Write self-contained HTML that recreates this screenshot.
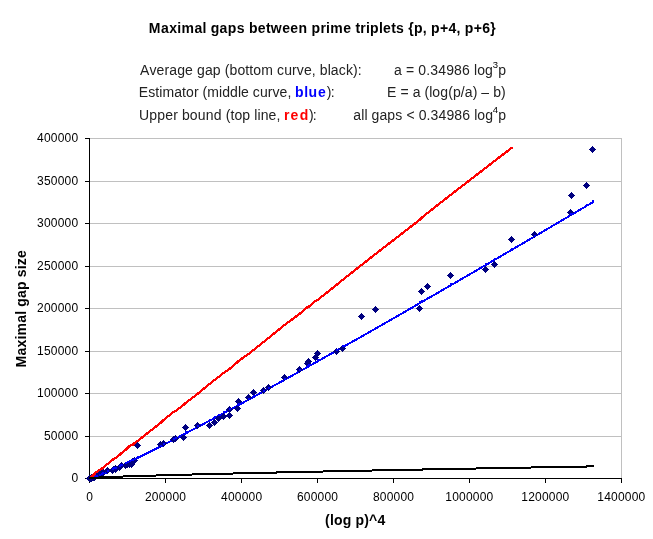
<!DOCTYPE html>
<html><head><meta charset="utf-8"><style>
html,body{margin:0;padding:0;background:#fff;}
svg{display:block;will-change:transform;}
text{font-family:"Liberation Sans",sans-serif;fill:#000;}
</style></head><body>
<svg width="653" height="539" viewBox="0 0 653 539">
<defs><clipPath id="pc"><rect x="80" y="130" width="560" height="349"/></clipPath></defs>
<rect width="653" height="539" fill="#fff"/>

<text ><tspan x="148.86 161.05 169.19 177.33 181.39 194.40 202.54 206.60 210.67 219.60 227.74 236.68 244.82 248.88 257.82 265.95 270.83 282.21 290.34 298.48 307.42 311.48 320.42 326.11 330.18 343.19 351.33 355.39 360.26 365.96 370.02 378.96 383.02 391.16 396.03 404.17 408.24 413.93 422.87 426.93 431.00 439.93 448.48 456.62 460.68 464.75 473.68 482.23 490.36" y="33" font-size="14" font-weight="bold">Maximal gaps between prime triplets {p, p+4, p+6}</tspan></text>
<text ><tspan x="139.97 149.48 156.60 164.53 169.27 177.20 185.12 193.05 197.01 204.93 212.86 220.78 224.74 229.49 237.41 245.34 249.30 253.26 261.18 273.05 277.01 284.14 292.06 296.81 303.93 311.86 315.82 319.78 327.70 330.87 338.79 345.92 353.04 357.79" y="75" font-size="14" style="fill:#222">Average gap (bottom curve, black):</tspan></text>
<text ><tspan x="138.85 148.29 155.36 159.30 162.44 174.23 182.10 186.03 193.90 198.61 202.54 207.25 219.04 222.18 230.05 237.92 241.07 248.94 252.87 259.94 267.81 272.52 279.60 287.47" y="97.2" font-size="14" style="fill:#222">Estimator (middle curve,</tspan><tspan x="294.88 304.25 308.52 317.89" y="97.2" font-size="14" font-weight="bold" style="fill:#0000ff">blue</tspan><tspan x="326.82 330.69" y="97.2" font-size="14" style="fill:#222">):</tspan></text>
<text ><tspan x="138.92 149.26 157.22 165.17 173.13 177.90 181.88 189.84 197.80 205.76 213.72 221.68 225.65 230.42 234.39 242.35 250.31 254.29 257.47 260.65 268.61 276.57" y="119.6" font-size="14" style="fill:#222">Upper bound (top line,</tspan><tspan x="283.98 290.44 299.67" y="119.6" font-size="14" font-weight="bold" style="fill:#ff0000">red</tspan><tspan x="309.12 312.79" y="119.6" font-size="14" style="fill:#222">):</tspan></text>
<text ><tspan x="394.01 401.96 405.94 414.30 418.27 426.23 430.21 438.17 446.13 454.08 462.04 470.00 473.98 477.16 485.12" y="75" font-size="14" style="fill:#222">a = 0.34986 log</tspan><tspan x="492.64" y="68" font-size="9.5">3</tspan><tspan x="498.20" y="75" font-size="14" style="fill:#222">p</tspan></text>
<text ><tspan x="386.95 396.43 400.38 408.68 412.63 420.53 424.48 429.21 432.37 440.27 448.18 452.91 460.82 464.76 472.67 477.40 481.35 489.25 493.20 501.11" y="97.2" font-size="14" style="fill:#222">E = a (log(p/a) – b)</tspan></text>
<text ><tspan x="353.31 361.23 364.40 367.56 371.52 379.45 387.37 395.29 402.42 406.38 414.70 418.66 426.58 430.54 438.47 446.39 454.32 462.24 470.17 474.13 477.29 485.22" y="119.6" font-size="14" style="fill:#222">all gaps &lt; 0.34986 log</tspan><tspan x="492.78" y="112.6" font-size="9.5">4</tspan><tspan x="498.20" y="119.6" font-size="14" style="fill:#222">p</tspan></text>
<rect x="90" y="436" width="532" height="1" fill="#c0c0c0"/>
<rect x="90" y="393" width="532" height="1" fill="#c0c0c0"/>
<rect x="90" y="351" width="532" height="1" fill="#c0c0c0"/>
<rect x="90" y="308" width="532" height="1" fill="#c0c0c0"/>
<rect x="90" y="266" width="532" height="1" fill="#c0c0c0"/>
<rect x="90" y="223" width="532" height="1" fill="#c0c0c0"/>
<rect x="90" y="181" width="532" height="1" fill="#c0c0c0"/>
<rect x="90" y="138" width="532" height="1" fill="#c0c0c0"/>
<rect x="621" y="138" width="1" height="340" fill="#c0c0c0"/>
<rect x="89" y="138" width="1" height="345" fill="#000"/>
<rect x="85" y="478" width="537" height="1" fill="#000"/>
<rect x="85" y="436" width="4" height="1" fill="#000"/>
<rect x="85" y="393" width="4" height="1" fill="#000"/>
<rect x="85" y="351" width="4" height="1" fill="#000"/>
<rect x="85" y="308" width="4" height="1" fill="#000"/>
<rect x="85" y="266" width="4" height="1" fill="#000"/>
<rect x="85" y="223" width="4" height="1" fill="#000"/>
<rect x="85" y="181" width="4" height="1" fill="#000"/>
<rect x="85" y="138" width="4" height="1" fill="#000"/>
<rect x="165" y="479" width="1" height="4" fill="#000"/>
<rect x="241" y="479" width="1" height="4" fill="#000"/>
<rect x="317" y="479" width="1" height="4" fill="#000"/>
<rect x="393" y="479" width="1" height="4" fill="#000"/>
<rect x="469" y="479" width="1" height="4" fill="#000"/>
<rect x="545" y="479" width="1" height="4" fill="#000"/>
<rect x="621" y="479" width="1" height="4" fill="#000"/>
<text ><tspan x="71.49" y="482.2" font-size="12">0</tspan></text>
<text ><tspan x="44.00 50.87 57.75 64.62 71.49" y="440.2" font-size="12">50000</tspan></text>
<text ><tspan x="37.12 44.00 50.87 57.75 64.62 71.49" y="397.2" font-size="12">100000</tspan></text>
<text ><tspan x="37.12 44.00 50.87 57.75 64.62 71.49" y="355.2" font-size="12">150000</tspan></text>
<text ><tspan x="37.12 44.00 50.87 57.75 64.62 71.49" y="312.2" font-size="12">200000</tspan></text>
<text ><tspan x="37.12 44.00 50.87 57.75 64.62 71.49" y="270.2" font-size="12">250000</tspan></text>
<text ><tspan x="37.12 44.00 50.87 57.75 64.62 71.49" y="227.2" font-size="12">300000</tspan></text>
<text ><tspan x="37.12 44.00 50.87 57.75 64.62 71.49" y="185.2" font-size="12">350000</tspan></text>
<text ><tspan x="37.12 44.00 50.87 57.75 64.62 71.49" y="142.2" font-size="12">400000</tspan></text>
<text ><tspan x="86.16" y="501" font-size="12">0</tspan></text>
<text ><tspan x="144.91 151.78 158.66 165.53 172.41 179.28" y="501" font-size="12">200000</tspan></text>
<text ><tspan x="221.07 227.95 234.82 241.70 248.57 255.44" y="501" font-size="12">400000</tspan></text>
<text ><tspan x="296.91 303.78 310.66 317.53 324.40 331.28" y="501" font-size="12">600000</tspan></text>
<text ><tspan x="372.95 379.83 386.70 393.57 400.45 407.32" y="501" font-size="12">800000</tspan></text>
<text ><tspan x="445.32 452.19 459.07 465.94 472.81 479.69 486.56" y="501" font-size="12">1000000</tspan></text>
<text ><tspan x="521.32 528.19 535.07 541.94 548.81 555.69 562.56" y="501" font-size="12">1200000</tspan></text>
<text ><tspan x="597.32 604.19 611.07 617.94 624.81 631.69 638.56" y="501" font-size="12">1400000</tspan></text>
<text ><tspan x="325.10 329.89 333.88 342.66 351.44 355.43 364.21 369.00 377.39" y="525.2" font-size="14" font-weight="bold">(log p)^4</tspan></text>
<text transform="translate(26,308.65) rotate(-90)"><tspan x="-58.96 -46.96 -38.95 -30.94 -26.94 -14.13 -6.12 -2.11 1.89 10.69 18.70 27.50 31.50 39.51 43.52 50.72" y="0" font-size="14" font-weight="bold">Maximal gap size</tspan></text>
<polyline clip-path="url(#pc)" fill="none" stroke="#0000ff" stroke-width="2" stroke-linejoin="round" stroke-linecap="butt" shape-rendering="crispEdges" points="89.52,479.00 89.56,479.00 89.62,478.99 89.79,478.97 90.03,478.92 90.14,478.90 90.27,478.87 90.89,478.71 90.98,478.68 91.10,478.64 91.26,478.60 91.54,478.51 91.77,478.44 92.27,478.28 92.81,478.10 93.52,477.86 94.60,477.47 94.88,477.37 96.81,476.63 99.33,475.63 101.32,474.81 102.09,474.49 107.83,472.01 112.27,470.02 113.85,469.30 115.21,468.68 115.24,468.66 119.40,466.73 120.31,466.30 121.59,465.70 125.86,463.67 127.47,462.90 129.93,461.71 131.17,461.11 132.24,460.59 132.30,460.56 134.08,459.69 137.15,458.18 160.38,446.52 163.50,444.92 173.21,439.91 175.59,438.67 183.20,434.70 185.83,433.32 197.19,427.32 209.35,420.85 214.61,418.03 218.87,415.74 223.12,413.45 229.17,410.19 229.20,410.17 237.33,405.76 238.82,404.95 248.54,399.65 253.27,397.06 263.07,391.68 268.50,388.68 284.50,379.83 299.50,371.48 307.50,367.01 308.50,366.45 315.50,362.52 317.50,361.40 336.50,350.70 342.50,347.31 361.50,336.54 375.50,328.57 419.50,303.36 421.50,302.21 427.50,298.75 450.50,285.47 485.50,265.14 494.50,259.90 511.50,249.97 534.50,236.51 570.50,215.34 571.50,214.75 586.50,205.91 593.88,201.55"/>
<polyline clip-path="url(#pc)" fill="none" stroke="#ff0000" stroke-width="2.3" stroke-linejoin="round" stroke-linecap="butt" shape-rendering="crispEdges" points="89.50,478.00 90.50,478.00 90.50,477.00 91.50,477.00 91.50,476.00 92.50,476.00 92.50,475.00 93.50,475.00 94.50,474.00 96.50,472.00 99.50,470.00 101.50,469.00 102.50,468.00 107.50,464.00 112.50,460.00 113.50,459.00 115.50,458.00 119.50,455.00 120.50,454.00 121.50,453.00 125.50,450.00 127.50,448.00 129.50,446.00 131.50,445.00 132.50,445.00 134.50,443.00 137.50,441.00 160.50,423.00 163.50,420.00 173.50,412.00 175.50,411.00 183.50,405.00 185.50,403.00 197.50,394.00 209.50,384.00 214.50,380.00 218.50,377.00 223.50,373.00 229.50,369.00 237.50,362.00 238.50,361.00 248.50,354.00 253.50,350.00 263.50,342.00 268.50,338.00 284.50,325.00 299.50,314.00 307.50,307.00 308.50,307.00 315.50,301.00 317.50,300.00 336.50,285.00 342.50,280.00 361.50,265.00 375.50,254.00 419.50,220.00 421.50,218.00 427.50,213.00 450.50,195.00 485.50,168.00 494.50,161.00 512.77,147.03"/>
<polyline clip-path="url(#pc)" fill="none" stroke="#000" stroke-width="2" stroke-linejoin="round" stroke-linecap="butt" shape-rendering="crispEdges" points="88.53,478.21 89.56,478.02 89.62,478.01 89.79,477.99 90.03,477.96 90.14,477.95 90.27,477.94 90.89,477.89 90.98,477.88 91.10,477.87 91.26,477.86 91.54,477.84 91.77,477.83 92.27,477.80 92.81,477.76 93.52,477.72 94.60,477.66 94.88,477.64 96.81,477.54 99.33,477.42 101.32,477.33 102.09,477.30 107.83,477.06 112.27,476.89 113.85,476.83 115.21,476.78 115.24,476.78 119.40,476.63 120.31,476.60 121.59,476.56 125.86,476.41 127.47,476.36 129.93,476.28 131.17,476.24 132.24,476.20 132.30,476.20 134.08,476.14 137.15,476.05 160.38,475.36 163.50,475.27 173.21,475.01 175.59,474.94 183.20,474.74 185.83,474.67 197.19,474.38 209.35,474.07 214.61,473.94 218.87,473.84 223.12,473.74 229.17,473.59 229.20,473.59 237.33,473.40 238.82,473.36 248.54,473.14 253.27,473.03 263.07,472.81 268.50,472.68 284.50,472.33 299.50,472.00 307.50,471.83 308.50,471.81 315.50,471.66 317.50,471.62 336.50,471.22 342.50,471.10 361.50,470.71 375.50,470.43 419.50,469.57 421.50,469.53 427.50,469.42 450.50,468.98 485.50,468.33 494.50,468.17 511.50,467.86 534.50,467.44 570.50,466.81 571.50,466.79 586.50,466.53 594.10,466.40"/>
<path fill="#000080" shape-rendering="crispEdges" d="M86 478h7v1h-7zM87 477h5v3h-5zM88 476h3v5h-3zM89 475h1v7h-1zM86 478h7v1h-7zM87 477h5v3h-5zM88 476h3v5h-3zM89 475h1v7h-1zM86 478h7v1h-7zM87 477h5v3h-5zM88 476h3v5h-3zM89 475h1v7h-1zM86 478h7v1h-7zM87 477h5v3h-5zM88 476h3v5h-3zM89 475h1v7h-1zM87 478h7v1h-7zM88 477h5v3h-5zM89 476h3v5h-3zM90 475h1v7h-1zM87 478h7v1h-7zM88 477h5v3h-5zM89 476h3v5h-3zM90 475h1v7h-1zM87 478h7v1h-7zM88 477h5v3h-5zM89 476h3v5h-3zM90 475h1v7h-1zM87 478h7v1h-7zM88 477h5v3h-5zM89 476h3v5h-3zM90 475h1v7h-1zM87 478h7v1h-7zM88 477h5v3h-5zM89 476h3v5h-3zM90 475h1v7h-1zM88 478h7v1h-7zM89 477h5v3h-5zM90 476h3v5h-3zM91 475h1v7h-1zM88 478h7v1h-7zM89 477h5v3h-5zM90 476h3v5h-3zM91 475h1v7h-1zM88 478h7v1h-7zM89 477h5v3h-5zM90 476h3v5h-3zM91 475h1v7h-1zM88 477h7v1h-7zM89 476h5v3h-5zM90 475h3v5h-3zM91 474h1v7h-1zM89 477h7v1h-7zM90 476h5v3h-5zM91 475h3v5h-3zM92 474h1v7h-1zM89 477h7v1h-7zM90 476h5v3h-5zM91 475h3v5h-3zM92 474h1v7h-1zM90 477h7v1h-7zM91 476h5v3h-5zM92 475h3v5h-3zM93 474h1v7h-1zM91 477h7v1h-7zM92 476h5v3h-5zM93 475h3v5h-3zM94 474h1v7h-1zM91 476h7v1h-7zM92 475h5v3h-5zM93 474h3v5h-3zM94 473h1v7h-1zM93 475h7v1h-7zM94 474h5v3h-5zM95 473h3v5h-3zM96 472h1v7h-1zM96 474h7v1h-7zM97 473h5v3h-5zM98 472h3v5h-3zM99 471h1v7h-1zM98 474h7v1h-7zM99 473h5v3h-5zM100 472h3v5h-3zM101 471h1v7h-1zM99 471h7v1h-7zM100 470h5v3h-5zM101 469h3v5h-3zM102 468h1v7h-1zM104 470h7v1h-7zM105 469h5v3h-5zM106 468h3v5h-3zM107 467h1v7h-1zM109 470h7v1h-7zM110 469h5v3h-5zM111 468h3v5h-3zM112 467h1v7h-1zM110 469h7v1h-7zM111 468h5v3h-5zM112 467h3v5h-3zM113 466h1v7h-1zM112 469h7v1h-7zM113 468h5v3h-5zM114 467h3v5h-3zM115 466h1v7h-1zM112 468h7v1h-7zM113 467h5v3h-5zM114 466h3v5h-3zM115 465h1v7h-1zM116 467h7v1h-7zM117 466h5v3h-5zM118 465h3v5h-3zM119 464h1v7h-1zM117 466h7v1h-7zM118 465h5v3h-5zM119 464h3v5h-3zM120 463h1v7h-1zM118 465h7v1h-7zM119 464h5v3h-5zM120 463h3v5h-3zM121 462h1v7h-1zM122 465h7v1h-7zM123 464h5v3h-5zM124 463h3v5h-3zM125 462h1v7h-1zM124 464h7v1h-7zM125 463h5v3h-5zM126 462h3v5h-3zM127 461h1v7h-1zM126 464h7v1h-7zM127 463h5v3h-5zM128 462h3v5h-3zM129 461h1v7h-1zM128 464h7v1h-7zM129 463h5v3h-5zM130 462h3v5h-3zM131 461h1v7h-1zM129 461h7v1h-7zM130 460h5v3h-5zM131 459h3v5h-3zM132 458h1v7h-1zM129 461h7v1h-7zM130 460h5v3h-5zM131 459h3v5h-3zM132 458h1v7h-1zM131 460h7v1h-7zM132 459h5v3h-5zM133 458h3v5h-3zM134 457h1v7h-1zM134 445h7v1h-7zM135 444h5v3h-5zM136 443h3v5h-3zM137 442h1v7h-1zM157 444h7v1h-7zM158 443h5v3h-5zM159 442h3v5h-3zM160 441h1v7h-1zM160 443h7v1h-7zM161 442h5v3h-5zM162 441h3v5h-3zM163 440h1v7h-1zM170 439h7v1h-7zM171 438h5v3h-5zM172 437h3v5h-3zM173 436h1v7h-1zM172 438h7v1h-7zM173 437h5v3h-5zM174 436h3v5h-3zM175 435h1v7h-1zM180 437h7v1h-7zM181 436h5v3h-5zM182 435h3v5h-3zM183 434h1v7h-1zM182 427h7v1h-7zM183 426h5v3h-5zM184 425h3v5h-3zM185 424h1v7h-1zM194 425h7v1h-7zM195 424h5v3h-5zM196 423h3v5h-3zM197 422h1v7h-1zM206 425h7v1h-7zM207 424h5v3h-5zM208 423h3v5h-3zM209 422h1v7h-1zM211 422h7v1h-7zM212 421h5v3h-5zM213 420h3v5h-3zM214 419h1v7h-1zM215 418h7v1h-7zM216 417h5v3h-5zM217 416h3v5h-3zM218 415h1v7h-1zM220 416h7v1h-7zM221 415h5v3h-5zM222 414h3v5h-3zM223 413h1v7h-1zM226 415h7v1h-7zM227 414h5v3h-5zM228 413h3v5h-3zM229 412h1v7h-1zM226 409h7v1h-7zM227 408h5v3h-5zM228 407h3v5h-3zM229 406h1v7h-1zM234 408h7v1h-7zM235 407h5v3h-5zM236 406h3v5h-3zM237 405h1v7h-1zM235 401h7v1h-7zM236 400h5v3h-5zM237 399h3v5h-3zM238 398h1v7h-1zM245 397h7v1h-7zM246 396h5v3h-5zM247 395h3v5h-3zM248 394h1v7h-1zM250 392h7v1h-7zM251 391h5v3h-5zM252 390h3v5h-3zM253 389h1v7h-1zM260 390h7v1h-7zM261 389h5v3h-5zM262 388h3v5h-3zM263 387h1v7h-1zM265 387h7v1h-7zM266 386h5v3h-5zM267 385h3v5h-3zM268 384h1v7h-1zM281 377h7v1h-7zM282 376h5v3h-5zM283 375h3v5h-3zM284 374h1v7h-1zM296 369h7v1h-7zM297 368h5v3h-5zM298 367h3v5h-3zM299 366h1v7h-1zM304 363h7v1h-7zM305 362h5v3h-5zM306 361h3v5h-3zM307 360h1v7h-1zM305 361h7v1h-7zM306 360h5v3h-5zM307 359h3v5h-3zM308 358h1v7h-1zM312 357h7v1h-7zM313 356h5v3h-5zM314 355h3v5h-3zM315 354h1v7h-1zM314 353h7v1h-7zM315 352h5v3h-5zM316 351h3v5h-3zM317 350h1v7h-1zM333 351h7v1h-7zM334 350h5v3h-5zM335 349h3v5h-3zM336 348h1v7h-1zM339 348h7v1h-7zM340 347h5v3h-5zM341 346h3v5h-3zM342 345h1v7h-1zM358 316h7v1h-7zM359 315h5v3h-5zM360 314h3v5h-3zM361 313h1v7h-1zM372 309h7v1h-7zM373 308h5v3h-5zM374 307h3v5h-3zM375 306h1v7h-1zM416 308h7v1h-7zM417 307h5v3h-5zM418 306h3v5h-3zM419 305h1v7h-1zM418 291h7v1h-7zM419 290h5v3h-5zM420 289h3v5h-3zM421 288h1v7h-1zM424 286h7v1h-7zM425 285h5v3h-5zM426 284h3v5h-3zM427 283h1v7h-1zM447 275h7v1h-7zM448 274h5v3h-5zM449 273h3v5h-3zM450 272h1v7h-1zM482 269h7v1h-7zM483 268h5v3h-5zM484 267h3v5h-3zM485 266h1v7h-1zM491 264h7v1h-7zM492 263h5v3h-5zM493 262h3v5h-3zM494 261h1v7h-1zM508 239h7v1h-7zM509 238h5v3h-5zM510 237h3v5h-3zM511 236h1v7h-1zM531 234h7v1h-7zM532 233h5v3h-5zM533 232h3v5h-3zM534 231h1v7h-1zM567 212h7v1h-7zM568 211h5v3h-5zM569 210h3v5h-3zM570 209h1v7h-1zM568 195h7v1h-7zM569 194h5v3h-5zM570 193h3v5h-3zM571 192h1v7h-1zM583 185h7v1h-7zM584 184h5v3h-5zM585 183h3v5h-3zM586 182h1v7h-1zM589 149h7v1h-7zM590 148h5v3h-5zM591 147h3v5h-3zM592 146h1v7h-1z"/>
<path clip-path="url(#pc)" fill="#0000ff" shape-rendering="crispEdges" d="M89 477h2v2h-2zM89 477h2v2h-2zM89 477h2v2h-2zM89 477h2v2h-2zM90 477h2v2h-2zM90 477h2v2h-2zM90 477h2v2h-2zM90 477h2v2h-2zM90 477h2v2h-2zM91 477h2v2h-2zM91 477h2v2h-2zM91 477h2v2h-2zM91 476h2v2h-2zM92 476h2v2h-2zM92 476h2v2h-2zM93 476h2v2h-2zM94 475h2v2h-2zM94 475h2v2h-2zM96 475h2v2h-2zM99 474h2v2h-2zM101 473h2v2h-2zM102 472h2v2h-2zM107 470h2v2h-2zM112 468h2v2h-2zM113 467h2v2h-2zM115 467h2v2h-2zM115 467h2v2h-2zM119 465h2v2h-2zM120 464h2v2h-2zM121 464h2v2h-2zM125 462h2v2h-2zM127 461h2v2h-2zM129 460h2v2h-2zM131 459h2v2h-2zM132 459h2v2h-2zM132 459h2v2h-2zM134 458h2v2h-2zM137 456h2v2h-2zM160 445h2v2h-2zM163 443h2v2h-2zM173 438h2v2h-2zM175 437h2v2h-2zM183 433h2v2h-2zM185 431h2v2h-2zM197 425h2v2h-2zM209 419h2v2h-2zM214 416h2v2h-2zM218 414h2v2h-2zM223 411h2v2h-2zM229 408h2v2h-2zM229 408h2v2h-2zM237 404h2v2h-2zM238 403h2v2h-2zM248 398h2v2h-2zM253 395h2v2h-2zM263 390h2v2h-2zM268 387h2v2h-2zM284 378h2v2h-2zM299 369h2v2h-2zM307 365h2v2h-2zM308 364h2v2h-2zM315 361h2v2h-2zM317 359h2v2h-2zM336 349h2v2h-2zM342 345h2v2h-2zM361 335h2v2h-2zM375 327h2v2h-2zM419 301h2v2h-2zM421 300h2v2h-2zM427 297h2v2h-2zM450 283h2v2h-2zM485 263h2v2h-2zM494 258h2v2h-2zM511 248h2v2h-2zM534 235h2v2h-2zM570 213h2v2h-2zM571 213h2v2h-2zM586 204h2v2h-2zM592 200h2v2h-2z"/>
<path clip-path="url(#pc)" fill="#ff0000" shape-rendering="crispEdges" d="M89 477h2v2h-2zM89 477h2v2h-2zM89 477h2v2h-2zM89 477h2v2h-2zM90 477h2v2h-2zM90 476h2v2h-2zM90 476h2v2h-2zM90 476h2v2h-2zM90 476h2v2h-2zM91 476h2v2h-2zM91 476h2v2h-2zM91 475h2v2h-2zM91 475h2v2h-2zM92 475h2v2h-2zM92 474h2v2h-2zM93 474h2v2h-2zM94 473h2v2h-2zM94 473h2v2h-2zM96 471h2v2h-2zM99 469h2v2h-2zM101 468h2v2h-2zM102 467h2v2h-2zM107 463h2v2h-2zM112 459h2v2h-2zM113 458h2v2h-2zM115 457h2v2h-2zM115 457h2v2h-2zM119 454h2v2h-2zM120 453h2v2h-2zM121 452h2v2h-2zM125 449h2v2h-2zM127 447h2v2h-2zM129 445h2v2h-2zM131 444h2v2h-2zM132 444h2v2h-2zM132 444h2v2h-2zM134 442h2v2h-2zM137 440h2v2h-2zM160 422h2v2h-2zM163 419h2v2h-2zM173 411h2v2h-2zM175 410h2v2h-2zM183 404h2v2h-2zM185 402h2v2h-2zM197 393h2v2h-2zM209 383h2v2h-2zM214 379h2v2h-2zM218 376h2v2h-2zM223 372h2v2h-2zM229 368h2v2h-2zM229 368h2v2h-2zM237 361h2v2h-2zM238 360h2v2h-2zM248 353h2v2h-2zM253 349h2v2h-2zM263 341h2v2h-2zM268 337h2v2h-2zM284 324h2v2h-2zM299 313h2v2h-2zM307 306h2v2h-2zM308 306h2v2h-2zM315 300h2v2h-2zM317 299h2v2h-2zM336 284h2v2h-2zM342 279h2v2h-2zM361 264h2v2h-2zM375 253h2v2h-2zM419 219h2v2h-2zM421 217h2v2h-2zM427 212h2v2h-2zM450 194h2v2h-2zM485 167h2v2h-2zM494 160h2v2h-2zM511 147h2v2h-2z"/>
<path clip-path="url(#pc)" fill="#000" shape-rendering="crispEdges" d="M89 477h2v2h-2zM89 477h2v2h-2zM89 477h2v2h-2zM89 477h2v2h-2zM90 477h2v2h-2zM90 477h2v2h-2zM90 477h2v2h-2zM90 477h2v2h-2zM90 477h2v2h-2zM91 477h2v2h-2zM91 477h2v2h-2zM91 477h2v2h-2zM91 477h2v2h-2zM92 477h2v2h-2zM92 477h2v2h-2zM93 477h2v2h-2zM94 477h2v2h-2zM94 477h2v2h-2zM96 477h2v2h-2zM99 476h2v2h-2zM101 476h2v2h-2zM102 476h2v2h-2zM107 476h2v2h-2zM112 476h2v2h-2zM113 476h2v2h-2zM115 476h2v2h-2zM115 476h2v2h-2zM119 476h2v2h-2zM120 476h2v2h-2zM121 476h2v2h-2zM125 475h2v2h-2zM127 475h2v2h-2zM129 475h2v2h-2zM131 475h2v2h-2zM132 475h2v2h-2zM132 475h2v2h-2zM134 475h2v2h-2zM137 475h2v2h-2zM160 474h2v2h-2zM163 474h2v2h-2zM173 474h2v2h-2zM175 474h2v2h-2zM183 474h2v2h-2zM185 474h2v2h-2zM197 473h2v2h-2zM209 473h2v2h-2zM214 473h2v2h-2zM218 473h2v2h-2zM223 473h2v2h-2zM229 473h2v2h-2zM229 473h2v2h-2zM237 472h2v2h-2zM238 472h2v2h-2zM248 472h2v2h-2zM253 472h2v2h-2zM263 472h2v2h-2zM268 472h2v2h-2zM284 471h2v2h-2zM299 471h2v2h-2zM307 471h2v2h-2zM308 471h2v2h-2zM315 471h2v2h-2zM317 471h2v2h-2zM336 470h2v2h-2zM342 470h2v2h-2zM361 470h2v2h-2zM375 469h2v2h-2zM419 469h2v2h-2zM421 469h2v2h-2zM427 468h2v2h-2zM450 468h2v2h-2zM485 467h2v2h-2zM494 467h2v2h-2zM511 467h2v2h-2zM534 466h2v2h-2zM570 466h2v2h-2zM571 466h2v2h-2zM586 465h2v2h-2zM592 465h2v2h-2z"/>
</svg></body></html>
